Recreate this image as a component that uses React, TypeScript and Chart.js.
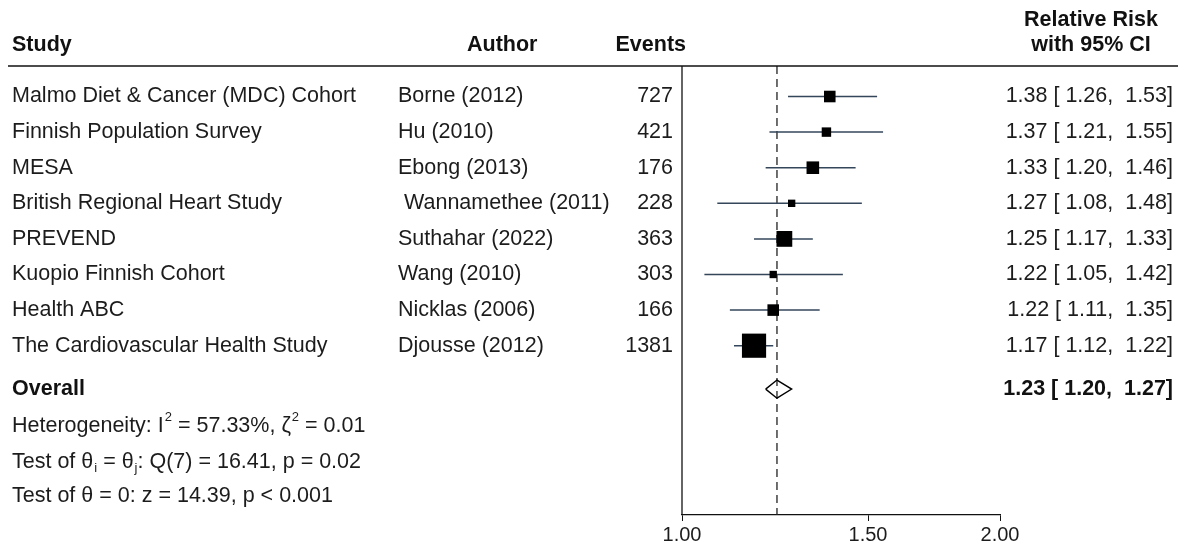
import React, { useEffect, useRef } from "react";
import { Chart, registerables } from "chart.js";

Chart.register(...registerables);

// ---------- data ----------
const studies = [
  "Malmo Diet & Cancer (MDC) Cohort",
  "Finnish Population Survey",
  "MESA",
  "British Regional Heart Study",
  "PREVEND",
  "Kuopio Finnish Cohort",
  "Health ABC",
  "The Cardiovascular Health Study",
];
const authors = [
  "Borne (2012)",
  "Hu (2010)",
  "Ebong (2013)",
  " Wannamethee (2011)",
  "Suthahar (2022)",
  "Wang (2010)",
  "Nicklas (2006)",
  "Djousse (2012)",
];
const events = [727, 421, 176, 228, 363, 303, 166, 1381];
const rr = [1.38, 1.37, 1.33, 1.27, 1.25, 1.22, 1.22, 1.17];
const lower = [1.26, 1.21, 1.2, 1.08, 1.17, 1.05, 1.11, 1.12];
const upper = [1.53, 1.55, 1.46, 1.48, 1.33, 1.42, 1.35, 1.22];
const weights = [9.2, 6.1, 10.9, 3.7, 17.1, 3.7, 9.2, 40.1];
const overallRR = [1.23, 1.2, 1.27]; // estimate, lower, upper
const xTicks = [1.0, 1.5, 2.0];

type Seg = { t: string; sup?: boolean; sub?: boolean };
const footerLines: Seg[][] = [
  [{ t: "Heterogeneity: I" }, { t: "2", sup: true }, { t: " = 57.33%, ζ" }, { t: "2", sup: true }, { t: " = 0.01" }],
  [{ t: "Test of θ" }, { t: "i", sub: true }, { t: " = θ" }, { t: "j", sub: true }, { t: ": Q(7) = 16.41, p = 0.02" }],
  [{ t: "Test of θ = 0: z = 14.39, p < 0.001" }],
];

// ---------- layout ----------
const W = 1184;
const H = 550;
const FONT = '"Liberation Sans", Arial, sans-serif';
const FS = 21.5;
const OVERALL_ROW = 8.22;
const FOOTER_ROWS = [9.25, 10.27, 11.22];
const Y_MIN = -0.857;
const Y_MAX = 11.756;

const fmt = (v: number) => v.toFixed(2);
const ciText = (e: number, l: number, u: number) => `${fmt(e)} [ ${fmt(l)},  ${fmt(u)}]`;

const textPlugin = {
  id: "forestText",
  afterDraw(chart: any) {
    const { ctx, chartArea, scales } = chart;
    const y = scales.y;
    ctx.save();
    // header line
    ctx.strokeStyle = "#111";
    ctx.lineWidth = 1.6;
    ctx.beginPath();
    ctx.moveTo(8, chartArea.top);
    ctx.lineTo(1178, chartArea.top);
    ctx.stroke();
    // left axis line
    ctx.lineWidth = 1.3;
    ctx.beginPath();
    ctx.moveTo(chartArea.left, chartArea.top);
    ctx.lineTo(chartArea.left, chartArea.bottom);
    ctx.stroke();

    ctx.textBaseline = "middle";
    ctx.fillStyle = "#111";
    ctx.font = `bold ${FS}px ${FONT}`;
    ctx.textAlign = "left";
    ctx.fillText("Study", 12, 45);
    ctx.fillText("Author", 467, 45);
    ctx.textAlign = "right";
    ctx.fillText("Events", 686, 45);
    ctx.textAlign = "center";
    ctx.fillText("Relative Risk", 1091, 20);
    ctx.fillText("with 95% CI", 1091, 45);

    ctx.font = `${FS}px ${FONT}`;
    ctx.fillStyle = "#1c1c1c";
    studies.forEach((s, i) => {
      const py = y.getPixelForValue(i);
      ctx.textAlign = "left";
      ctx.fillText(s, 12, py);
      ctx.fillText(authors[i], 398, py);
      ctx.textAlign = "right";
      ctx.fillText(String(events[i]), 673, py);
      ctx.fillText(ciText(rr[i], lower[i], upper[i]), 1173, py);
    });

    const oy = y.getPixelForValue(OVERALL_ROW);
    ctx.font = `bold ${FS}px ${FONT}`;
    ctx.fillStyle = "#111";
    ctx.textAlign = "left";
    ctx.fillText("Overall", 12, oy);
    ctx.textAlign = "right";
    ctx.fillText(ciText(overallRR[0], overallRR[1], overallRR[2]), 1173, oy);

    ctx.fillStyle = "#1c1c1c";
    ctx.textAlign = "left";
    footerLines.forEach((line, li) => {
      const py = y.getPixelForValue(FOOTER_ROWS[li]);
      let x = 12;
      line.forEach((seg) => {
        if (seg.sup || seg.sub) {
          ctx.font = `13px ${FONT}`;
          ctx.fillText(seg.t, x + 1, py + (seg.sup ? -8 : 6));
          x += ctx.measureText(seg.t).width + 1;
        } else {
          ctx.font = `${FS}px ${FONT}`;
          ctx.fillText(seg.t, x, py);
          x += ctx.measureText(seg.t).width;
        }
      });
    });
    ctx.restore();
  },
};

export default function App() {
  const ref = useRef<HTMLCanvasElement | null>(null);

  useEffect(() => {
    document.body.style.margin = "0";
    const canvas = ref.current;
    if (!canvas) return;

    const ciSets = studies.map((_, i) => ({
      type: "line" as const,
      data: [
        { x: lower[i], y: i },
        { x: upper[i], y: i },
      ],
      borderColor: "#34465a",
      borderWidth: 1.5,
      pointRadius: 0,
      showLine: true,
      order: 3,
    }));

    const [est, lo, hi] = overallRR;
    const halfH = 0.255;

    const chart = new Chart(canvas, {
      type: "scatter",
      data: {
        datasets: [
          {
            type: "line",
            data: [
              { x: est, y: Y_MIN },
              { x: est, y: Y_MAX },
            ],
            borderColor: "#222",
            borderWidth: 1.3,
            borderDash: [8, 5],
            pointRadius: 0,
            showLine: true,
            order: 4,
          } as any,
          ...ciSets,
          {
            type: "scatter",
            data: rr.map((v, i) => ({ x: v, y: i })),
            pointStyle: "rect",
            pointRadius: weights.map((w) => Math.sqrt(w) * 2.7),
            backgroundColor: "#000",
            borderColor: "#000",
            borderWidth: 0,
            order: 1,
          } as any,
          {
            type: "line",
            data: [
              { x: lo, y: OVERALL_ROW },
              { x: est, y: OVERALL_ROW - halfH },
              { x: hi, y: OVERALL_ROW },
              { x: est, y: OVERALL_ROW + halfH },
              { x: lo, y: OVERALL_ROW },
            ],
            borderColor: "#000",
            backgroundColor: "#fff",
            fill: true,
            borderWidth: 1.4,
            pointRadius: 0,
            showLine: true,
            tension: 0,
            order: 0,
          } as any,
        ],
      },
      options: {
        animation: false,
        responsive: false,
        layout: { padding: { left: 682, right: 184, top: 66, bottom: 0 } },
        plugins: { legend: { display: false }, tooltip: { enabled: false } },
        scales: {
          x: {
            type: "logarithmic",
            min: 1,
            max: 2,
            afterBuildTicks: (s: any) => {
              s.ticks = xTicks.map((v) => ({ value: v }));
            },
            afterFit: (s: any) => {
              s.height = 35;
            },
            ticks: {
              callback: (v: any) => Number(v).toFixed(2),
              font: { size: 20, family: FONT },
              color: "#1c1c1c",
              maxRotation: 0,
              autoSkip: false,
              padding: 2,
            },
            grid: { drawOnChartArea: false, drawTicks: true, tickLength: 6, color: "#111" },
            border: { color: "#111", width: 1.3 },
          },
          y: {
            type: "linear",
            reverse: true,
            min: Y_MIN,
            max: Y_MAX,
            display: false,
          },
        },
      } as any,
      plugins: [textPlugin],
    });
    return () => chart.destroy();
  }, []);

  return (
    <div style={{ position: "absolute", left: 0, top: 0, width: W, height: H, background: "#fff" }}>
      <canvas ref={ref} width={W} height={H} style={{ width: W, height: H, display: "block" }} />
    </div>
  );
}
